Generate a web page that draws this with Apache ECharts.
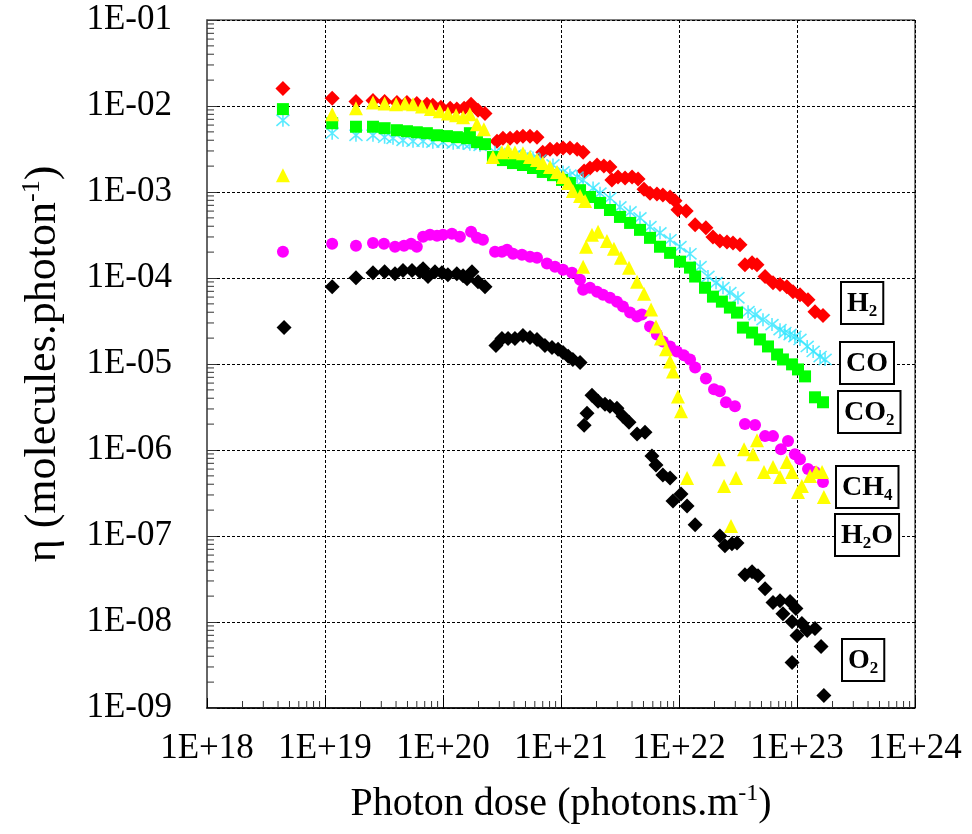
<!DOCTYPE html>
<html><head><meta charset="utf-8">
<script src="https://cdn.jsdelivr.net/npm/echarts@6/dist/echarts.min.js"></script>
<style>html,body{margin:0;padding:0;background:#fff}#c{width:972px;height:834px}</style>
</head><body><div id="c"></div>
<script>
const xTickLabels = ['1E+18','1E+19','1E+20','1E+21','1E+22','1E+23','1E+24'];
const yTickLabels = ['1E-09','1E-08','1E-07','1E-06','1E-05','1E-04','1E-03','1E-02','1E-01'];

const h2 = [[4.4e18,1.6e-2],[1.15e19,1.23e-2],[1.83e19,1.13e-2],[2.55e19,1.16e-2],[3.2e19,1.13e-2],[4.07e19,1.1e-2],[4.95e19,1.1e-2],[6.0e19,1.07e-2],[7.3e19,1.05e-2],[8.2e19,1.02e-2],[9.6e19,9.7e-3],[1.15e20,9.4e-3],[1.31e20,9.2e-3],[1.51e20,9.4e-3],[1.73e20,1.05e-2],[1.98e20,8.9e-3],[2.27e20,8.2e-3],[2.87e20,3.9e-3],[3.22e20,4.22e-3],[3.7e20,4.22e-3],[4.24e20,4.34e-3],[4.76e20,4.46e-3],[5.46e20,4.46e-3],[6.26e20,4.34e-3],[7.0e20,2.9e-3],[8.07e20,3.15e-3],[9.25e20,3.15e-3],[1.04e21,3.24e-3],[1.19e21,3.24e-3],[1.37e21,3.15e-3],[1.54e21,2.9e-3],[1.57e21,1.75e-3],[1.76e21,1.9e-3],[2.02e21,2.06e-3],[2.31e21,2.0e-3],[2.6e21,1.95e-3],[2.7e21,1.38e-3],[3.04e21,1.49e-3],[3.49e21,1.45e-3],[4.0e21,1.49e-3],[4.5e21,1.42e-3],[5.05e21,1.08e-3],[5.68e21,9.7e-4],[6.5e21,9.5e-4],[7.3e21,9.2e-4],[8.4e21,8.75e-4],[9.25e21,7.9e-4],[9.8e21,6.2e-4],[1.15e22,6.0e-4],[1.37e22,4.15e-4],[1.69e22,3.83e-4],[1.94e22,3.0e-4],[2.22e22,2.7e-4],[2.55e22,2.63e-4],[2.87e22,2.56e-4],[3.29e22,2.43e-4],[3.62e22,1.43e-4],[4.16e22,1.5e-4],[4.58e22,1.43e-4],[5.36e22,1.04e-4],[6.26e22,8.8e-5],[7.18e22,8.4e-5],[8.2e22,7.9e-5],[9.25e22,6.9e-5],[1.06e23,6.4e-5],[1.24e23,5.6e-5],[1.42e23,4.06e-5],[1.66e23,3.66e-5]];

const co = [[4.4e18,6.83e-3],[1.15e19,4.83e-3],[1.83e19,4.57e-3],[2.55e19,4.57e-3],[3.2e19,4.34e-3],[3.77e19,4.22e-3],[4.58e19,4.0e-3],[5.57e19,3.9e-3],[6.78e19,3.9e-3],[8.2e19,3.8e-3],[1.0e20,3.8e-3],[1.22e20,3.7e-3],[1.48e20,3.7e-3],[1.69e20,3.6e-3],[2.06e20,3.5e-3],[2.76e20,2.9e-3],[3.35e20,2.75e-3],[4.07e20,2.68e-3],[4.95e20,2.61e-3],[5.79e20,2.48e-3],[6.64e20,2.35e-3],[8.55e20,2.06e-3],[1.04e21,1.71e-3],[1.19e21,1.57e-3],[1.37e21,1.49e-3],[1.54e21,1.38e-3],[1.87e21,1.11e-3],[2.14e21,9.7e-4],[2.6e21,8.5e-4],[3.16e21,6.7e-4],[3.85e21,5.86e-4],[4.67e21,5.0e-4],[5.68e21,3.94e-4],[6.9e21,3.35e-4],[8.4e21,2.78e-4],[1.02e22,2.31e-4],[1.24e22,1.91e-4],[1.51e22,1.35e-4],[1.76e22,1.04e-4],[2.06e22,8.8e-5],[2.36e22,7.7e-5],[2.7e22,6.75e-5],[3.16e22,5.9e-5],[3.85e22,4.06e-5],[4.41e22,3.75e-5],[5.15e22,3.28e-5],[6.14e22,2.87e-5],[7.18e22,2.51e-5],[7.9e22,2.32e-5],[8.73e22,2.2e-5],[9.6e22,2.09e-5],[1.06e23,1.93e-5],[1.22e23,1.6e-5],[1.37e23,1.4e-5],[1.57e23,1.22e-5],[1.73e23,1.13e-5]];

const co2 = [[4.4e18,9.2e-3],[1.15e19,6.3e-3],[1.83e19,5.74e-3],[2.55e19,5.74e-3],[3.2e19,5.52e-3],[4.07e19,5.23e-3],[4.95e19,5.09e-3],[6.0e19,4.95e-3],[7.3e19,4.83e-3],[8.9e19,4.57e-3],[1.08e20,4.46e-3],[1.31e20,4.34e-3],[1.6e20,4.22e-3],[1.69e20,4.83e-3],[1.94e20,3.8e-3],[2.27e20,3.6e-3],[2.65e20,2.55e-3],[3.22e20,2.35e-3],[3.92e20,2.17e-3],[4.76e20,2.06e-3],[5.79e20,1.9e-3],[7.0e20,1.71e-3],[8.55e20,1.57e-3],[1.02e21,1.38e-3],[1.19e21,1.27e-3],[1.45e21,1.05e-3],[1.76e21,8.75e-4],[2.14e21,7.46e-4],[2.6e21,6.18e-4],[3.16e21,5.13e-4],[3.85e21,4.37e-4],[4.67e21,3.63e-4],[5.68e21,2.93e-4],[6.9e21,2.31e-4],[8.4e21,1.96e-4],[1.02e22,1.55e-4],[1.24e22,1.32e-4],[1.37e22,1.04e-4],[1.66e22,7.7e-5],[1.94e22,6.07e-5],[2.31e22,5.31e-5],[2.7e22,4.53e-5],[3.1e22,3.96e-5],[3.48e22,2.65e-5],[4.16e22,2.32e-5],[4.85e22,1.93e-5],[5.68e22,1.6e-5],[6.78e22,1.29e-5],[7.6e22,1.13e-5],[9.08e22,9.9e-6],[1.02e23,8.65e-6],[1.17e23,7.18e-6],[1.42e23,4.1e-6],[1.66e23,3.59e-6]];

const ch4 = [[4.4e18,2.02e-4],[1.15e19,2.5e-4],[1.83e19,2.37e-4],[2.55e19,2.56e-4],[3.16e19,2.5e-4],[3.92e19,2.31e-4],[4.67e19,2.37e-4],[5.36e19,2.5e-4],[6.0e19,2.31e-4],[6.78e19,3.01e-4],[7.76e19,3.18e-4],[8.9e19,3.09e-4],[1.0e20,3.18e-4],[1.19e20,3.26e-4],[1.39e20,3.01e-4],[1.73e20,3.44e-4],[1.94e20,2.93e-4],[2.18e20,2.78e-4],[2.76e20,2.02e-4],[3.16e20,2.02e-4],[3.49e20,2.13e-4],[3.92e20,1.91e-4],[4.67e20,1.86e-4],[5.46e20,1.77e-4],[6.26e20,1.72e-4],[7.6e20,1.47e-4],[8.9e20,1.35e-4],[1.04e21,1.25e-4],[1.24e21,1.15e-4],[1.45e21,9.55e-5],[1.54e21,7.3e-5],[1.76e21,7.7e-5],[2.02e21,6.93e-5],[2.27e21,6.4e-5],[2.6e21,5.9e-5],[2.98e21,5.31e-5],[3.35e21,4.65e-5],[3.85e21,3.96e-5],[4.41e21,3.56e-5],[4.85e21,3.76e-5],[5.68e21,2.73e-5],[6.5e21,2.2e-5],[7.3e21,1.83e-5],[8.4e21,1.6e-5],[9.6e21,1.4e-5],[1.1e22,1.26e-5],[1.24e22,1.13e-5],[1.37e22,9.1e-6],[1.69e22,6.8e-6],[1.98e22,5.08e-6],[2.22e22,4.81e-6],[2.5e22,3.59e-6],[2.98e22,3.23e-6],[3.62e22,2.0e-6],[4.41e22,1.95e-6],[5.36e22,1.45e-6],[6.26e22,1.45e-6],[7.31e22,1.02e-6],[8.39e22,1.27e-6],[9.6e22,8.95e-7],[1.06e23,7.83e-7],[1.24e23,6.0e-7],[1.42e23,5.55e-7],[1.66e23,4.25e-7]];

const h2o = [[4.4e18,1.57e-3],[1.15e19,8.0e-3],[1.83e19,9.4e-3],[2.55e19,1.1e-2],[3.2e19,1.07e-2],[4.0e19,1.05e-2],[4.76e19,1.07e-2],[5.57e19,1.05e-2],[6.64e19,9.9e-3],[7.9e19,9.2e-3],[9.4e19,8.7e-3],[1.1e20,8.2e-3],[1.29e20,7.8e-3],[1.48e20,7.4e-3],[1.69e20,8.0e-3],[1.94e20,6.14e-3],[2.22e20,5.37e-3],[2.65e20,2.55e-3],[3.16e20,2.9e-3],[3.56e20,3.07e-3],[4.07e20,2.9e-3],[4.76e20,2.83e-3],[5.46e20,2.55e-3],[6.26e20,2.35e-3],[7.0e20,2.17e-3],[8.07e20,1.95e-3],[9.25e20,1.71e-3],[1.04e21,1.49e-3],[1.15e21,1.27e-3],[1.26e21,1.03e-3],[1.45e21,9.0e-4],[1.6e21,7.87e-4],[1.54e21,1.35e-4],[1.63e21,2.31e-4],[1.83e21,3.18e-4],[2.06e21,3.44e-4],[2.45e21,2.7e-4],[2.81e21,2.19e-4],[3.22e21,1.72e-4],[3.77e21,1.32e-4],[4.41e21,9.06e-5],[5.05e21,6.57e-5],[5.8e21,4.3e-5],[6.38e21,2.73e-5],[7.03e21,1.98e-5],[7.76e21,1.48e-5],[8.4e21,1.07e-5],[8.9e21,8.2e-6],[9.8e21,4.2e-6],[1.04e22,2.82e-6],[1.17e22,4.72e-7],[2.18e22,7.83e-7],[2.41e22,3.82e-7],[2.76e22,1.31e-7],[3.04e22,4.72e-7],[3.56e22,1.02e-6],[4.24e22,8.95e-7],[4.58e22,1.3e-6],[5.25e22,5.55e-7],[6.26e22,6.34e-7],[7.18e22,4.85e-7],[8.2e22,7.24e-7],[9.08e22,5.55e-7],[1.02e23,3.25e-7],[1.1e23,3.82e-7],[1.29e23,4.99e-7],[1.45e23,5.55e-7],[1.63e23,5.55e-7],[1.69e23,2.84e-7]];

const o2 = [[4.5e18,2.65e-5],[1.15e19,7.9e-5],[1.83e19,1.01e-4],[2.55e19,1.15e-4],[3.2e19,1.18e-4],[3.92e19,1.12e-4],[4.58e19,1.22e-4],[5.46e19,1.22e-4],[6.38e19,1.18e-4],[6.78e19,1.28e-4],[7.46e19,1.04e-4],[8.55e19,1.18e-4],[9.8e19,1.15e-4],[1.1e20,1.09e-4],[1.31e20,1.12e-4],[1.48e20,1.06e-4],[1.6e20,9.8e-5],[1.76e20,1.18e-4],[1.98e20,9.06e-5],[2.27e20,7.9e-5],[2.81e20,1.64e-5],[3.16e20,1.98e-5],[3.56e20,1.98e-5],[4.07e20,1.98e-5],[4.76e20,2.14e-5],[5.46e20,2.03e-5],[6.26e20,1.93e-5],[7.31e20,1.64e-5],[8.39e20,1.56e-5],[9.44e20,1.48e-5],[1.04e21,1.36e-5],[1.15e21,1.23e-5],[1.26e21,1.13e-5],[1.45e21,1.04e-5],[1.57e21,1.94e-6],[1.66e21,2.68e-6],[1.83e21,4.33e-6],[2.06e21,3.68e-6],[2.36e21,3.4e-6],[2.6e21,3.23e-6],[2.98e21,3.06e-6],[3.35e21,2.47e-6],[3.77e21,2.1e-6],[4.41e21,1.53e-6],[5.15e21,1.61e-6],[5.9e21,8.5e-7],[6.38e21,6.68e-7],[7.3e21,5.12e-7],[8.4e21,4.72e-7],[8.9e21,2.55e-7],[1.04e22,3.08e-7],[1.17e22,2.24e-7],[1.37e22,1.35e-7],[2.22e22,1.0e-7],[2.45e22,7.7e-8],[2.81e22,8.1e-8],[3.1e22,8.3e-8],[3.62e22,3.55e-8],[4.16e22,3.85e-8],[4.67e22,3.46e-8],[5.36e22,2.44e-8],[6.26e22,1.68e-8],[7.18e22,1.77e-8],[7.6e22,1.25e-8],[8.73e22,1.73e-8],[9.08e22,1.01e-8],[9.8e22,1.44e-8],[1.0e23,6.98e-9],[1.1e23,9.6e-9],[1.22e23,7.98e-9],[1.42e23,8.4e-9],[9.08e22,3.39e-9],[1.6e23,5.19e-9],[1.69e23,1.4e-9]];

const minorMultipliers = [2,3,4,5,6,7,8,9];

const SERIF = '"Liberation Serif","Times New Roman",serif';
const X_MIN = 1e18, X_MAX = 1e24, Y_MIN = 1e-9, Y_MAX = 1e-1;

const minorData = [];
for (let e = 18; e < 24; e++) for (const m of minorMultipliers) minorData.push([m * Math.pow(10, e), Y_MIN, 0]);
for (let e = -9; e < -1; e++) for (const m of minorMultipliers) minorData.push([X_MIN, m * Math.pow(10, e), 1]);

function expOf(v){ return Math.round(Math.log10(v)); }

const chart = echarts.init(document.getElementById('c'), null, {renderer: 'canvas'});

function sc(name, data, symbol, size, color, z, extra) {
  return Object.assign({
    name, type: 'scatter', data, symbol, symbolSize: size,
    itemStyle: { color: color, opacity: 1 }, z: z,
    emphasis: { disabled: true }, animation: false
  }, extra || {});
}

const labelBox = (txt, x, y) => ({
  type: 'text', left: x, top: y, z: 100,
  style: {
    text: txt,
    fill: '#000',
    backgroundColor: '#fff', borderColor: '#000', borderWidth: 2,
    padding: [5, 5, 3, 5],
    rich: {
      m: { fontFamily: SERIF, fontWeight: 'bold', fontSize: 28, lineHeight: 32, fill: '#000', color: '#000' },
      s: { fontFamily: SERIF, fontWeight: 'bold', fontSize: 17, lineHeight: 17, verticalAlign: 'bottom', fill: '#000', color: '#000' }
    }
  }
});

const option = {
  backgroundColor: '#fff',
  animation: false,
  grid: { left: 207, right: 57, top: 20, bottom: 126, show: true, borderColor: '#000', borderWidth: 1, backgroundColor: 'transparent' },
  xAxis: {
    type: 'log', logBase: 10, min: X_MIN, max: X_MAX, splitNumber: 6,
    name: '{n|Photon dose (photons.m}{s|-1}{n|)}',
    nameLocation: 'middle', nameGap: 74,
    nameTextStyle: { rich: {
      n: { fontFamily: SERIF, fontSize: 40, color: '#000', lineHeight: 44 },
      s: { fontFamily: SERIF, fontSize: 24, color: '#000', verticalAlign: 'top', lineHeight: 24 }
    } },
    axisLine: { onZero: false, lineStyle: { color: '#000', width: 1.5 } },
    axisTick: { inside: true, length: 10, lineStyle: { color: '#000' } },
    axisLabel: { fontFamily: SERIF, fontSize: 35, color: '#000', margin: 23,
      formatter: v => xTickLabels[expOf(v) - 18] },
    splitLine: { show: true, lineStyle: { color: '#000', type: [3, 2], width: 1 } }
  },
  yAxis: {
    type: 'log', logBase: 10, min: Y_MIN, max: Y_MAX, splitNumber: 8,
    name: '{n|η (molecules.photon}{s|-1}{n|)}',
    nameLocation: 'middle', nameRotate: 90, nameGap: 140,
    nameTextStyle: { rich: {
      n: { fontFamily: SERIF, fontSize: 44, color: '#000', lineHeight: 48 },
      s: { fontFamily: SERIF, fontSize: 26, color: '#000', verticalAlign: 'top', lineHeight: 26 }
    } },
    axisLine: { onZero: false, lineStyle: { color: '#666', width: 2 } },
    axisTick: { inside: true, length: 10, lineStyle: { color: '#333' } },
    axisLabel: { fontFamily: SERIF, fontSize: 35, color: '#000', margin: 35,
      formatter: v => yTickLabels[expOf(v) + 9] },
    splitLine: { show: true, lineStyle: { color: '#000', type: [3, 2], width: 1 } }
  },
  series: [
    {
      type: 'custom', name: 'minor ticks', data: minorData, silent: true, z: 1, clip: false,
      encode: { x: 0, y: 1 },
      renderItem: (params, api) => {
        const p = api.coord([api.value(0), api.value(1)]);
        const horiz = api.value(2) === 1;
        return { type: 'line', shape: horiz ? { x1: p[0], y1: p[1], x2: p[0] + 7, y2: p[1] } : { x1: p[0], y1: p[1], x2: p[0], y2: p[1] - 7 },
          style: { stroke: '#333', lineWidth: 1 } };
      }
    },
    sc('H2', h2, 'diamond', 15, '#ff0000', 3),
    sc('CO', co, 'path://M0,0L12,12M12,0L0,12M6,-1L6,13', 13, 'transparent', 4, { itemStyle: { color: 'transparent', borderColor: '#30e6ff', borderWidth: 1.6 } }),
    sc('CO2', co2, 'rect', 12, '#00ff00', 5),
    sc('CH4', ch4, 'circle', 12, '#ff00ff', 6),
    sc('H2O', h2o, 'triangle', 14, '#ffff00', 7),
    sc('O2', o2, 'diamond', 15, '#000000', 8)
  ],
  graphic: [
    labelBox('{m|H}{s|2}', 840, 281),
    labelBox('{m|CO}', 839, 341),
    labelBox('{m|CO}{s|2}', 837, 390),
    labelBox('{m|CH}{s|4}', 835, 465),
    labelBox('{m|H}{s|2}{m|O}', 834, 513),
    labelBox('{m|O}{s|2}', 841, 638)
  ]
};
chart.setOption(option);
</script>
</body></html>
